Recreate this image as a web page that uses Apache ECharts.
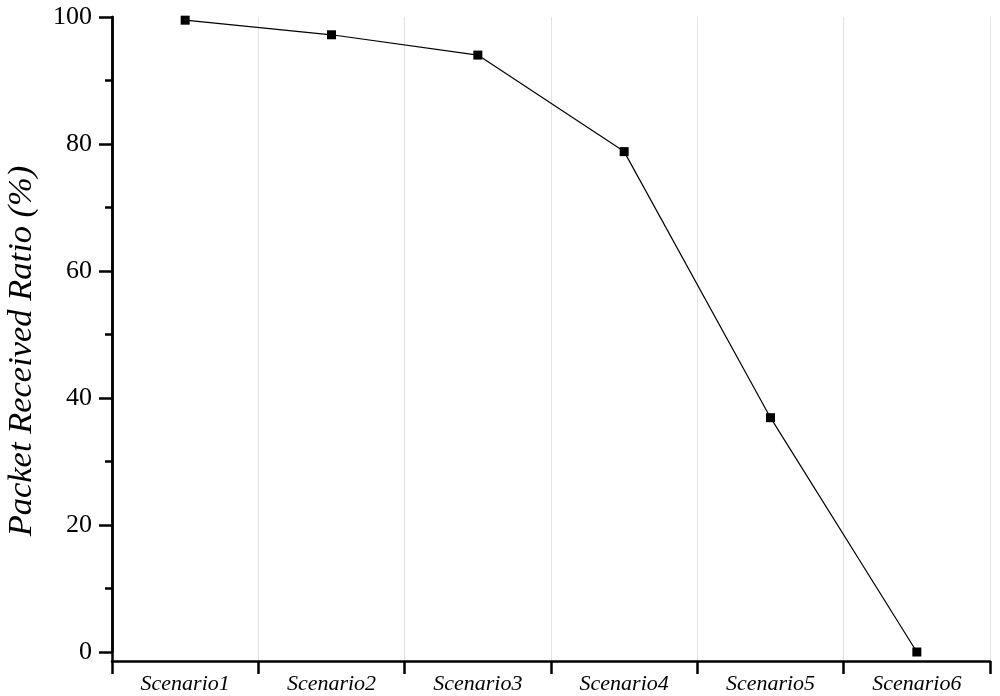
<!DOCTYPE html>
<html>
<head>
<meta charset="utf-8">
<script src="https://cdn.jsdelivr.net/npm/echarts@6/dist/echarts.min.js"></script>
<style>
  html, body { margin: 0; padding: 0; background: #fff; }
  #chart { width: 1000px; height: 696px; }
</style>
</head>
<body>
<div id="chart"></div>
<script>
  const scenarios = ['Scenario1', 'Scenario2', 'Scenario3', 'Scenario4', 'Scenario5', 'Scenario6']
  const ratio = [99.5, 97.2, 94.0, 78.8, 36.9, 0]
  const yTicks = { min: 0, max: 100, step: 20 }

  const serif = 'Liberation Serif'
  const chart = echarts.init(document.getElementById('chart'))

  chart.setOption({
    animation: false,
    grid: [
      // data area, ends at y = 0
      { left: 112, right: 10, top: 17, bottom: 44, outerBoundsMode: 'none', containLabel: false },
      // frame: x axis sits a little below 0
      { left: 112, right: 10, top: 17, bottom: 35, outerBoundsMode: 'none', containLabel: false }
    ],
    xAxis: [
      {
        gridIndex: 0,
        type: 'category',
        data: scenarios,
        boundaryGap: true,
        show: false
      },
      {
        gridIndex: 1,
        type: 'category',
        data: scenarios,
        boundaryGap: true,
        axisLine: { lineStyle: { color: '#000', width: 2.5 } },
        axisTick: { show: true, interval: 0, length: 13, lineStyle: { color: '#000', width: 2.5 } },
        axisLabel: {
          interval: 0,
          margin: 12,
          color: '#000',
          fontFamily: serif,
          fontStyle: 'italic',
          fontSize: 22
        },
        splitLine: { show: true, interval: 0, lineStyle: { color: '#e2e2e2', width: 1 } }
      }
    ],
    yAxis: [
      {
        gridIndex: 0,
        type: 'value',
        min: yTicks.min,
        max: yTicks.max,
        interval: yTicks.step,
        axisLine: { show: true, lineStyle: { color: '#000', width: 2.5 } },
        axisTick: { show: true, length: 13, lineStyle: { color: '#000', width: 2.5 } },
        minorTick: { show: true, splitNumber: 2, length: 7, lineStyle: { color: '#000', width: 2.5 } },
        axisLabel: { margin: 20, color: '#000', fontFamily: serif, fontSize: 26 },
        splitLine: { show: false }
      },
      {
        gridIndex: 1,
        type: 'value',
        min: 0,
        max: 1,
        name: 'Packet Received Ratio (%)',
        nameLocation: 'middle',
        nameGap: 73,
        nameTextStyle: {
          color: '#000',
          fontFamily: serif,
          fontStyle: 'italic',
          fontSize: 34.5,
          padding: [0, 24, 0, 0]
        },
        axisLine: { show: true, lineStyle: { color: '#000', width: 2.5 } },
        axisTick: { show: false },
        axisLabel: { show: false },
        splitLine: { show: false }
      }
    ],
    series: [
      {
        type: 'line',
        xAxisIndex: 0,
        yAxisIndex: 0,
        data: ratio,
        symbol: 'rect',
        symbolSize: 9,
        lineStyle: { color: '#000', width: 1.2 },
        itemStyle: { color: '#000' }
      }
    ]
  })
</script>
</body>
</html>
